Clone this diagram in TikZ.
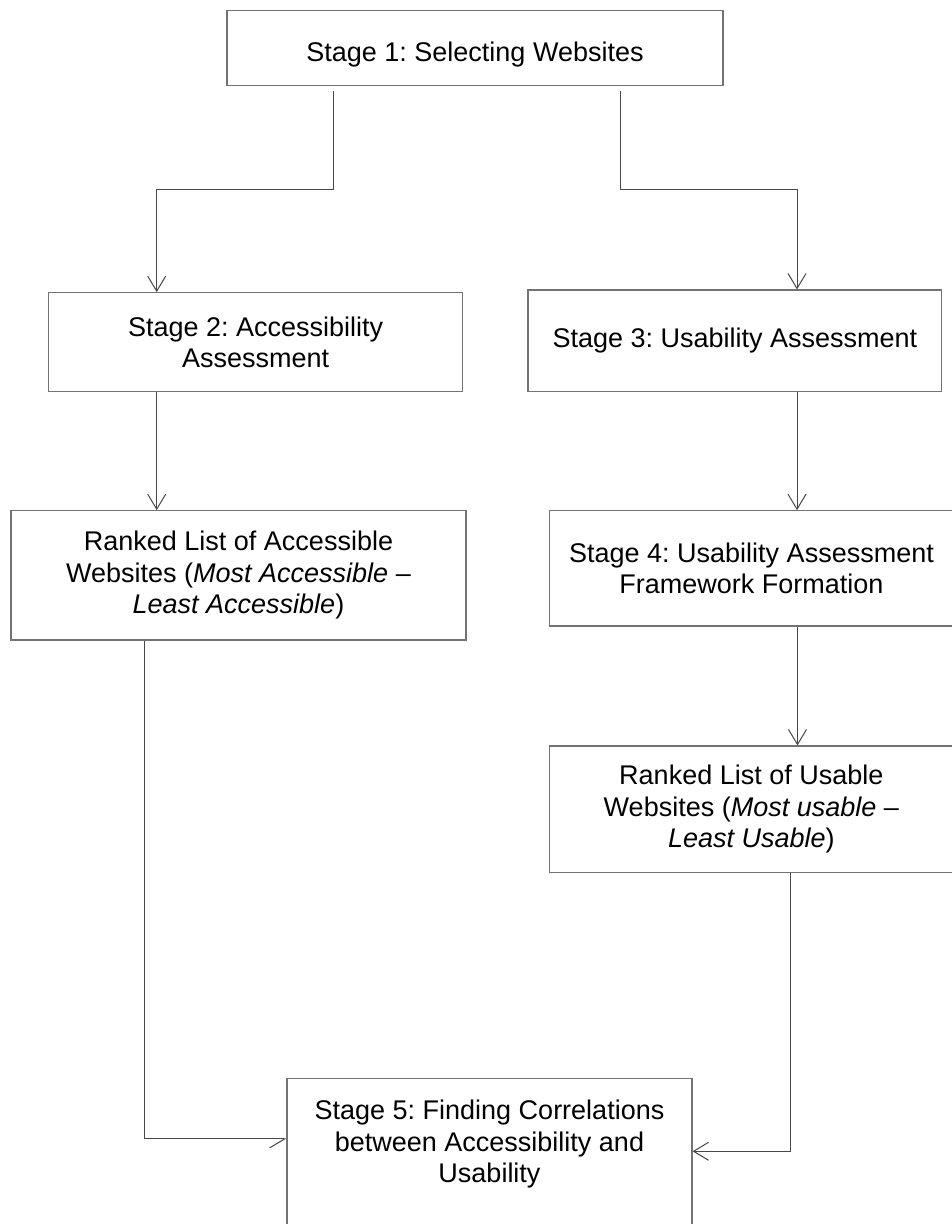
\documentclass[tikz,border=0pt]{standalone}
\usepackage{fontspec}
\setmainfont{Liberation Sans}
\usetikzlibrary{arrows.meta,calc}
\frenchspacing
\begin{document}
\begin{tikzpicture}[x=1pt,y=-1pt,
  box/.style={draw=black!55, line width=1.2pt, align=center, inner sep=0pt,
    font=\fontsize{27}{31.5}\selectfont\frenchspacing},
  lbl/.style={align=center, inner sep=0pt, font=\fontsize{27}{31.5}\selectfont\frenchspacing},
  conn/.style={draw=black!72, line width=1pt, -{Straight Barb[length=15pt,width=18pt]}},
  halfconn/.style={draw=black!72, line width=1pt, -{Straight Barb[length=15pt,width=18pt,harpoon,swap]}}]
\useasboundingbox (0,0) rectangle (952,1224);
\clip (0,0) rectangle (952,1224);
\fill[white] (0,0) rectangle (952,1224);

\node[box, minimum width=496pt, minimum height=74.6pt, text height=33pt, text depth=5.7pt] (s1) at (475,48) {Stage 1: Selecting Websites};
\node[box, minimum width=414pt, minimum height=99pt] (s2) at (255.6,342.2) {Stage 2: Accessibility\\Assessment};
\node[box, minimum width=413.7pt, minimum height=101.7pt] (s3) at (734.9,340.9) {Stage 3: Usability Assessment};
\node[box, minimum width=455pt, minimum height=129.3pt] (ra) at (238.5,575.4) {Ranked List of Accessible\\Websites (\textit{Most Accessible} –\\\textit{Least Accessible})};
\node[box, minimum width=404pt, minimum height=115.3pt] (s4) at (751.5,568.4) {Stage 4: Usability Assessment\\Framework Formation};
\node[box, minimum width=404pt, minimum height=126.7pt] (ru) at (751.3,809.4) {Ranked List of Usable\\Websites (\textit{Most usable} –\\\textit{Least Usable})};
\node[box, minimum width=405pt, minimum height=150pt, anchor=north] (s5) at (489.5,1078) {};
\node[lbl, anchor=north] (s5t) at (489.5,1100) {Stage 5: Finding Correlations\\between Accessibility and\\Usability};

\draw[conn] ([xshift=-141.7pt,yshift=-4.7pt]s1.south) -- ++(0,99.3) -| ([xshift=-98.9pt]s2.north);
\draw[conn] ([xshift=145pt,yshift=-4.7pt]s1.south) -- ++(0,99.3) -| ([xshift=62.1pt]s3.north);
\draw[conn] ([xshift=-98.9pt]s2.south) -- ([xshift=-98.9pt]s2.south |- ra.north);
\draw[conn] ([xshift=62.1pt]s3.south) -- ([xshift=62.1pt]s3.south |- s4.north);
\draw[conn] ([xshift=46pt]s4.south) -- ([xshift=46pt]s4.south |- ru.north);
\draw[halfconn] ([xshift=-94pt]ra.south) |- ([yshift=14.7pt]s5.west);
\draw[conn] ([xshift=38.7pt]ru.south) |- ([yshift=2.3pt]s5.east);
\end{tikzpicture}
\end{document}
